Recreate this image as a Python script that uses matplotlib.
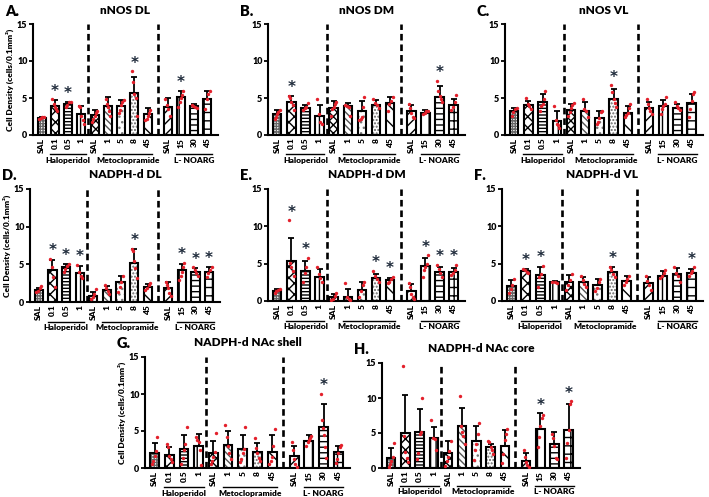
import numpy as np
import matplotlib
matplotlib.use("Agg")
import matplotlib.pyplot as plt
from matplotlib.transforms import blended_transform_factory

plt.rcParams['font.family'] = ['Lato', 'DejaVu Sans']
plt.rcParams['font.weight'] = 'bold'
plt.rcParams['hatch.linewidth'] = 1.0

# categories (x tick labels) and groups
tick_labels = ['SAL', '0.1', '0.5', '1', 'SAL', '1', '5', '8', '45', 'SAL', '15', '30', '45']
groups = [('Haloperidol', 1, 3), ('Metoclopramide', 5, 8), ('L- NOARG', 10, 12)]

titles = ['nNOS DL', 'nNOS DM', 'nNOS VL', 'NADPH-d DL', 'NADPH-d DM', 'NADPH-d VL',
          'NADPH-d NAc shell', 'NADPH-d NAc core']
letters = ['A.', 'B.', 'C.', 'D.', 'E.', 'F.', 'G.', 'H.']

# mean bar heights
A_mean = [2.3, 3.9, 4.2, 2.9, 2.7, 3.9, 3.9, 5.7, 2.85, 3.75, 5.2, 3.9, 4.8]
B_mean = [2.8, 4.4, 3.6, 2.6, 3.7, 3.9, 3.2, 4.1, 4.3, 3.2, 3.0, 5.2, 4.0]
C_mean = [3.2, 4.0, 4.4, 1.9, 3.4, 3.3, 2.3, 4.9, 3.0, 3.6, 3.9, 3.6, 4.3]
D_mean = [1.6, 4.2, 4.6, 3.9, 0.8, 1.6, 2.7, 5.2, 2.0, 1.9, 4.2, 4.0, 4.0]
E_mean = [1.3, 5.4, 4.0, 3.2, 0.5, 0.6, 1.5, 3.1, 2.8, 1.3, 4.7, 3.9, 3.9]
F_mean = [2.0, 4.0, 3.5, 2.5, 2.5, 2.5, 2.1, 3.9, 2.7, 2.4, 3.4, 3.6, 3.8]
G_mean = [2.0, 1.8, 2.6, 3.0, 2.0, 3.1, 2.6, 2.1, 2.2, 1.6, 3.7, 5.5, 2.1]
H_mean = [1.4, 5.0, 5.2, 4.3, 2.2, 6.0, 3.8, 3.0, 3.2, 1.0, 5.6, 3.4, 5.5]

# standard deviations (upper error bar)
A_sd = [0.1, 0.8, 0.3, 1.0, 0.7, 1.3, 0.8, 2.2, 0.75, 1.25, 0.8, 0.3, 1.2]
B_sd = [0.6, 0.9, 0.5, 1.4, 0.9, 0.4, 1.4, 0.6, 0.8, 0.8, 0.4, 1.4, 0.9]
C_sd = [0.5, 0.6, 1.2, 1.3, 0.8, 1.1, 1.0, 1.3, 0.9, 0.9, 0.8, 0.6, 1.3]
D_sd = [0.3, 1.4, 0.4, 0.9, 0.5, 0.5, 0.8, 1.8, 0.4, 0.8, 0.9, 0.5, 0.6]
E_sd = [0.3, 3.1, 1.4, 1.1, 0.4, 1.0, 1.1, 0.5, 0.3, 1.0, 1.1, 0.7, 0.5]
F_sd = [0.8, 0.3, 1.1, 0.2, 1.0, 0.7, 0.8, 0.7, 0.6, 0.8, 0.6, 0.8, 0.5]
G_sd = [1.4, 1.1, 1.9, 1.6, 1.7, 1.9, 1.8, 1.3, 2.2, 1.4, 0.7, 3.2, 0.9]
H_sd = [1.4, 5.5, 3.2, 1.5, 1.6, 2.6, 2.2, 0.5, 2.3, 1.1, 2.2, 1.8, 3.7]

# individual animals (red dots)
A_pts = [[2.5, 2.4, 2.3, 2.2], [4.8, 4.2, 3.8, 3.5, 3.2], [4.5, 4.4, 4.0, 3.8],
         [3.9, 3.8, 2.6, 2.0, 1.5], [3.3, 3.0, 2.6, 2.2, 1.8], [4.8, 4.2, 3.8, 3.3, 2.6],
         [4.7, 4.4, 4.0, 3.4, 3.0], [8.6, 7.2, 5.5, 5.0, 2.6], [3.4, 3.0, 2.6, 2.2, 2.0],
         [4.9, 4.0, 3.5, 2.6], [5.9, 5.4, 5.0, 4.5, 3.8], [4.1, 3.9, 3.8, 3.6],
         [6.0, 5.5, 4.8, 3.5]]
B_pts = [[3.4, 3.1, 2.8, 2.4, 2.1], [5.3, 5.0, 4.5, 4.0, 3.4], [4.3, 3.8, 3.6, 3.4],
         [4.9, 2.8, 1.8, 1.5], [4.5, 4.2, 3.8, 3.5, 2.6], [4.1, 3.9, 3.8, 2.6],
         [5.1, 3.8, 2.5, 2.1, 2.0], [4.8, 4.3, 4.0, 3.7], [5.1, 4.6, 4.2, 3.2],
         [4.2, 3.6, 3.0, 2.5, 2.3], [3.3, 3.2, 3.0, 2.8], [7.3, 6.0, 5.3, 4.8, 4.4],
         [5.4, 4.5, 3.8, 3.4]]
C_pts = [[3.7, 3.5, 3.1, 2.6], [5.0, 4.2, 3.9, 3.5], [6.0, 4.8, 4.2, 3.9, 3.3],
         [3.9, 2.0, 1.5, 1.3, 0.9], [4.3, 4.0, 3.6, 3.1, 2.6], [4.9, 3.5, 3.2, 2.5],
         [3.3, 3.1, 2.3, 1.8, 1.5], [6.7, 5.8, 4.8, 4.3, 3.8], [4.2, 3.6, 3.0, 2.7, 2.4],
         [4.8, 4.2, 3.7, 3.2, 2.8], [5.1, 4.2, 3.9, 3.5, 2.8], [4.4, 3.9, 3.7, 3.4],
         [5.8, 5.5, 4.6, 3.5, 2.4]]
D_pts = [[2.1, 1.8, 1.5, 1.3], [5.7, 4.6, 3.3, 2.0], [5.1, 4.8, 4.4, 4.0],
         [4.9, 4.0, 3.4, 3.2], [1.7, 1.0, 0.6, 0.4], [2.2, 1.8, 1.5, 1.1],
         [3.5, 2.6, 2.0, 1.3], [7.1, 6.8, 5.5, 4.5, 3.2], [2.5, 2.3, 1.9, 1.6],
         [2.6, 2.3, 1.8, 1.2, 0.8], [5.2, 4.7, 4.0, 3.4, 2.9], [4.6, 4.2, 3.9, 3.5],
         [4.7, 4.3, 3.9, 3.3]]
E_pts = [[1.6, 1.5, 1.3, 1.1], [10.8, 5.1, 4.5, 4.0, 3.3], [5.8, 4.5, 3.8, 2.6],
         [4.5, 3.6, 3.1, 2.5], [1.1, 0.7, 0.3, 0.1], [2.4, 0.6, 0.3, 0.1],
         [2.6, 2.2, 1.3, 0.5], [4.0, 3.4, 3.0, 2.6], [3.2, 2.9, 2.6, 2.4],
         [2.4, 1.9, 1.0, 0.5, 0.3], [6.1, 5.0, 4.6, 4.2, 3.2], [4.8, 4.3, 3.8, 3.2],
         [4.8, 4.2, 3.8, 3.5]]
F_pts = [[3.0, 2.2, 1.6, 1.1], [4.3, 4.1, 3.9, 3.7], [4.7, 3.6, 3.2, 1.9],
         [2.6, 2.5, 2.4], [3.6, 2.8, 2.1, 1.5], [3.3, 2.8, 2.3, 1.9],
         [3.0, 2.5, 1.8, 1.4], [4.6, 4.2, 3.6, 3.2], [3.3, 2.9, 2.6, 2.2],
         [3.3, 2.7, 2.1, 1.5], [4.2, 3.7, 3.4, 3.1], [4.5, 3.8, 3.4, 2.5],
         [4.5, 4.0, 3.7, 3.3]]
G_pts = [[4.2, 2.3, 1.6, 1.0, 0.6], [3.3, 2.8, 1.6, 1.2, 0.8], [5.6, 3.3, 2.5, 1.4, 0.6],
         [4.2, 3.8, 3.5, 2.5, 0.4], [4.7, 2.1, 1.5, 1.0, 0.5], [5.8, 4.2, 3.0, 2.0, 1.2],
         [5.6, 2.6, 2.0, 1.2, 0.8], [4.0, 2.7, 2.0, 1.4, 1.0], [5.3, 3.0, 1.5, 1.0, 0.6],
         [3.5, 2.4, 1.2, 0.6, 0.2], [4.3, 4.1, 3.8, 3.5, 3.0],
         [10.0, 6.5, 5.4, 4.4, 2.8, 1.4], [3.1, 2.8, 2.0, 1.2, 0.7]]
H_pts = [[3.6, 1.6, 1.0, 0.6, 0.2], [14.6, 4.6, 2.3, 1.4, 0.8], [10.0, 5.2, 4.8, 2.2, 1.3],
         [6.8, 4.3, 4.1, 2.6], [3.8, 2.4, 1.6, 1.0, 0.3], [10.3, 6.0, 5.2, 4.6, 3.4],
         [6.5, 4.8, 3.5, 2.6, 1.1], [3.9, 3.7, 3.0, 2.6, 2.0], [5.6, 4.8, 4.0, 2.0, 0.7],
         [2.6, 1.6, 0.9, 0.5, 0.2], [7.6, 7.2, 6.0, 4.4, 3.0], [4.9, 4.3, 3.2, 1.4, 1.3],
         [9.6, 9.2, 5.5, 3.6, 1.5]]

# significant bars
A_stars = [1, 2, 7, 10]
B_stars = [1, 11]
C_stars = [7]
D_stars = [1, 2, 3, 7, 10, 11, 12]
E_stars = [1, 2, 7, 8, 10, 11, 12]
F_stars = [1, 2, 7, 12]
G_stars = [11]
H_stars = [10, 12]

means = [A_mean, B_mean, C_mean, D_mean, E_mean, F_mean, G_mean, H_mean]
sds = [A_sd, B_sd, C_sd, D_sd, E_sd, F_sd, G_sd, H_sd]
points = [A_pts, B_pts, C_pts, D_pts, E_pts, F_pts, G_pts, H_pts]
stars = [A_stars, B_stars, C_stars, D_stars, E_stars, F_stars, G_stars, H_stars]

# bar style per category: (hatch, hatch colour)
hatches = [('++++++', '#666666'), ('xxx', 'black'), ('-----', 'black'), ('|||', 'black'),
           ('xxxx', 'black'), ('\\\\\\\\\\', '#555555'), ('...', '#777777'),
           ('.....', '#666666'), ('\\\\', 'black'), ('///', 'black'), ('||', 'black'),
           ('---', 'black'), ('++', 'black')]

xpos = np.array([0, 1, 2, 3, 4, 5, 6, 7, 8, 9.5, 10.5, 11.5, 12.5])
dashed_at = [3.5, 8.75]

# axes rectangles in pixels (left, top, right, bottom)
W, H = 709, 497
rects = [(33, 24, 218, 135), (268, 24, 465, 135), (505, 24, 703, 135),
         (30, 189, 220, 302), (268, 189, 465, 301), (502, 189, 703, 301),
         (145, 357, 350, 468), (382, 363, 580, 468)]

fig = plt.figure(figsize=(W / 100, H / 100), dpi=100)

for k in range(8):
    l, t, r, b = rects[k]
    ax = fig.add_axes([l / W, 1 - b / H, (r - l) / W, (b - t) / H])
    m = np.array(means[k])
    s = np.array(sds[k])
    for i in range(13):
        h, hc = hatches[i]
        ax.bar(xpos[i], m[i], width=0.6, color='white', edgecolor=hc, hatch=h,
               linewidth=0, zorder=2)
        ax.bar(xpos[i], m[i], width=0.6, fill=False, edgecolor='black',
               linewidth=1.5, zorder=3)
    ax.errorbar(xpos, m, yerr=[np.zeros(13), s], fmt='none', ecolor='black',
                elinewidth=1.3, capsize=2, capthick=1.3, zorder=4)
    for i, pts in enumerate(points[k]):
        n = len(pts)
        off = np.linspace(-0.18, 0.18, n) if n > 1 else np.zeros(1)
        ax.scatter(xpos[i] + off[::-1] * ((-1) ** i), pts, s=6, color='#e3202b',
                   zorder=5, linewidths=0)
    for i in stars[k]:
        top = max(m[i] + s[i], max(points[k][i]))
        ax.text(xpos[i], top + 1.1, '*', ha='center', va='center', fontsize=11,
                color='#1e2a3a', fontfamily='DejaVu Sans', zorder=6)
    for xd in dashed_at:
        ax.plot([xd, xd], [0, 15], color='black', lw=1.9, ls=(0, (2.5, 1.5)),
                zorder=1, clip_on=False)

    ax.set_xlim(-0.65, 13.3)
    ax.set_ylim(0, 15)
    ax.set_yticks([0, 5, 10, 15])
    ax.tick_params(axis='y', labelsize=6.5, length=3, width=1.3, pad=1)
    ax.set_xticks(xpos)
    ax.set_xticklabels(tick_labels, rotation=90, fontsize=6, fontweight='heavy')
    ax.tick_params(axis='x', length=0, pad=2)
    for lab in ax.get_yticklabels():
        lab.set_fontweight('heavy')
    ax.spines['top'].set_visible(False)
    ax.spines['right'].set_visible(False)
    ax.spines['left'].set_linewidth(1.5)
    ax.spines['bottom'].set_linewidth(1.5)

    trans = blended_transform_factory(ax.transData, ax.transAxes)
    for name, i0, i1 in groups:
        ax.plot([xpos[i0] - 0.35, xpos[i1] + 0.35], [-0.175, -0.175], color='black',
                lw=1.0, transform=trans, clip_on=False)
        ax.text((xpos[i0] + xpos[i1]) / 2, -0.195, name, transform=trans,
                ha='center', va='top', fontsize=6, fontweight='heavy')

    fig.text((l + r) / 2 / W, 1 - (t - 14) / H, titles[k], ha='center', va='center',
             fontsize=8.5, fontweight='heavy')
    fig.text((l - 28) / W, 1 - (t - 13) / H, letters[k], ha='left', va='center',
             fontsize=10.5, fontweight='heavy')
    if k in (0, 3, 6):
        ax.set_ylabel('Cell Density (cells/0.1mm²)', fontsize=6, fontweight='heavy',
                      labelpad=2)

fig.savefig('out.png', dpi=100)
